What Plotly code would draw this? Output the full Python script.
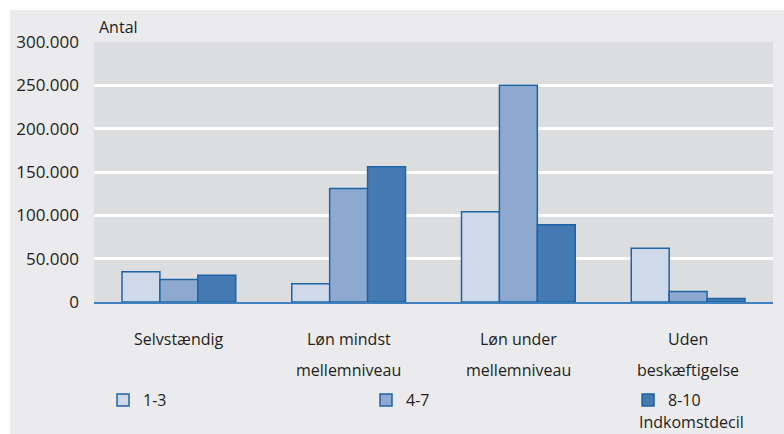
import plotly.graph_objects as go

BG_OUTER = "#ebebed"
BG_PLOT = "#dcdddf"
EDGE = "#1d64a7"
TEXT = "#231f20"
FONT = "Open Sans"

categories = ["Selvstændig", "Løn mindst\nmellemniveau", "Løn under\nmellemniveau", "Uden\nbeskæftigelse"]
series_names = ["1-3", "4-7", "8-10"]
series_colors = ["#cfd9ea", "#8ea9cf", "#4479b1"]
values_1_3 = [35000, 21000, 104000, 62000]
values_4_7 = [26000, 131000, 250000, 12000]
values_8_10 = [31000, 156000, 89000, 4000]
y_ticks = [0, 50000, 100000, 150000, 200000, 250000, 300000]
y_ticktext = ["0", "50.000", "100.000", "150.000", "200.000", "250.000", "300.000"]

# one legend per series so the entries can sit spread out on one row
legend_ids = ["legend", "legend2", "legend3"]
legend_x = [0.0133, 0.4006, 0.7865]

fig = go.Figure()
for name, vals, color, lid in zip(series_names, [values_1_3, values_4_7, values_8_10], series_colors, legend_ids):
    fig.add_trace(
        go.Bar(
            name=name,
            x=categories,
            y=vals,
            legend=lid,
            marker=dict(color=color, line=dict(color=EDGE, width=1.5)),
        )
    )

# category labels, one annotation per line (reference uses wide line spacing)
annotations = []
for cat in categories:
    for i, line in enumerate(cat.split("\n")):
        annotations.append(
            dict(
                x=cat, y=0, xref="x", yref="paper", yanchor="middle",
                yshift=-37 - 31 * i, text=line, showarrow=False,
                font=dict(family=FONT, size=16, color=TEXT),
            )
        )
annotations.append(
    dict(x=0.005, y=1.0, xref="paper", yref="paper", xanchor="left", yanchor="bottom",
         yshift=2, text="Antal", showarrow=False, font=dict(family=FONT, size=16, color=TEXT))
)
annotations.append(
    dict(x=0.80, y=0, xref="paper", yref="paper", xanchor="left", yanchor="middle",
         yshift=-120, text="Indkomstdecil", showarrow=False, font=dict(family=FONT, size=16, color=TEXT))
)

legends = {}
for lid, lx in zip(legend_ids, legend_x):
    legends[lid] = dict(
        orientation="h", x=lx, y=-0.377, xanchor="left", yanchor="middle",
        bgcolor="rgba(0,0,0,0)", font=dict(family=FONT, size=16, color=TEXT),
    )

fig.update_layout(
    width=784,
    height=434,
    margin=dict(l=94, r=11, t=42, b=132),
    paper_bgcolor=BG_OUTER,
    plot_bgcolor=BG_PLOT,
    barmode="group",
    bargap=0.33,
    bargroupgap=0,
    font=dict(family=FONT, size=16, color=TEXT),
    showlegend=True,
    xaxis=dict(
        showticklabels=False, showgrid=False, zeroline=False,
        showline=True, linecolor="#3f7fbe", linewidth=1.5, fixedrange=True,
    ),
    yaxis=dict(
        range=[0, 300000], tickvals=y_ticks, ticktext=y_ticktext,
        showgrid=True, gridcolor="white", gridwidth=2.5, zeroline=False,
        ticklabelstandoff=14, tickfont=dict(family=FONT, size=17, color=TEXT),
        fixedrange=True,
    ),
    annotations=annotations,
    shapes=[
        dict(type="rect", xref="paper", yref="paper", x0=-0.2, x1=1.1, y0=1.123, y1=1.3,
             fillcolor="white", line=dict(width=0), layer="above"),
        dict(type="rect", xref="paper", yref="paper", x0=-0.2, x1=-0.1237, y0=-0.6, y1=1.3,
             fillcolor="white", line=dict(width=0), layer="above"),
    ],
    **legends,
)

fig.write_html(
    "out.html",
    config={"displayModeBar": False},
    post_script="document.body.style.margin='0';",
)
